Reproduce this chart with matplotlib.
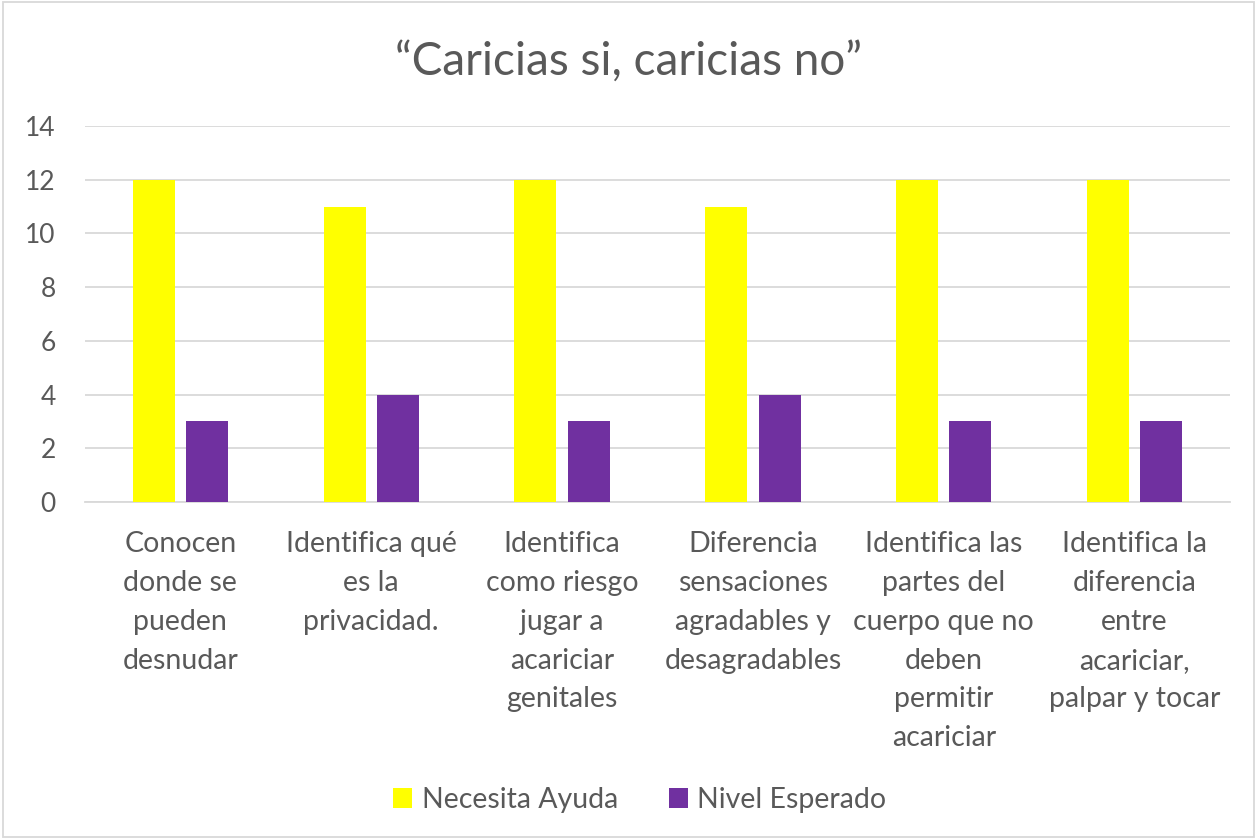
import matplotlib.pyplot as plt
import numpy as np
from matplotlib.patches import Rectangle

categories = [
    "Conocen\ndonde se\npueden\ndesnudar",
    "Identifica qué\nes la\nprivacidad.",
    "Identifica\ncomo riesgo\njugar a\nacariciar\ngenitales",
    "Diferencia\nsensaciones\nagradables y\ndesagradables",
    "Identifica las\npartes del\ncuerpo que no\ndeben\npermitir\nacariciar",
    "Identifica la\ndiferencia\nentre\nacariciar,\npalpar y tocar",
]
necesita_ayuda = [12, 11, 12, 11, 12, 12]
nivel_esperado = [3, 4, 3, 4, 3, 3]
y_ticks = [0, 2, 4, 6, 8, 10, 12, 14]

text_col = "#595959"
plt.rcParams["font.family"] = ["Lato", "DejaVu Sans"]

fig = plt.figure(figsize=(12.57, 8.39), dpi=100)
ax = fig.add_axes([85 / 1257, 1 - 502 / 839, (1230 - 85) / 1257, (502 - 126) / 839])

x = np.arange(len(categories))
w = 0.22
ax.bar(x - 0.14, necesita_ayuda, w, color="#FFFF00", label="Necesita Ayuda", zorder=3)
ax.bar(x + 0.14, nivel_esperado, w, color="#7030A0", label="Nivel Esperado", zorder=3)

ax.set_xlim(-0.5, len(categories) - 0.5)
ax.set_ylim(0, 14)
ax.set_yticks(y_ticks)
ax.yaxis.grid(True, color="#d9d9d9", linewidth=1.3, zorder=0)
for s in ["top", "right", "left"]:
    ax.spines[s].set_visible(False)
ax.spines["bottom"].set_color("#d9d9d9")
ax.spines["bottom"].set_linewidth(1.3)
ax.tick_params(axis="both", length=0, colors=text_col)
ax.tick_params(axis="y", pad=21, labelsize=19)
ax.tick_params(axis="x", pad=21, labelsize=20.5)
ax.set_xticks(x)
ax.set_xticklabels(categories, linespacing=1.61, va="top")

fig.suptitle("\u201cCaricias si, caricias no\u201d", x=0.5, y=1 - 62 / 839,
             fontsize=33, color=text_col, va="center")

fig.legend(loc="center", bbox_to_anchor=(0.509, 1 - 800 / 839), ncol=2,
           frameon=False, fontsize=20.5, labelcolor=text_col,
           handlelength=0.65, handleheight=0.65, handletextpad=0.35,
           columnspacing=1.8)

fig.patches.append(Rectangle((0.002, 0.002), 0.996, 0.996, transform=fig.transFigure,
                             fill=False, edgecolor="#d9d9d9", linewidth=1.3))

fig.savefig("out.png", dpi=100)
